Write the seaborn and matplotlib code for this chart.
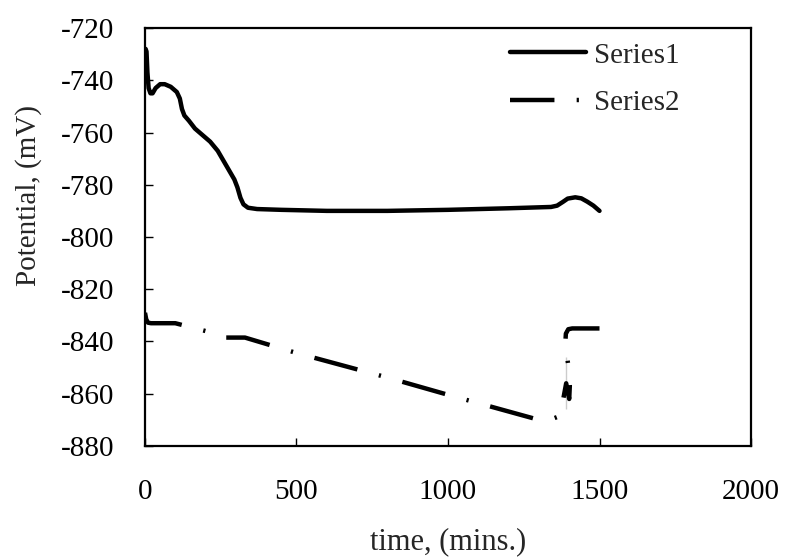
import pandas as pd
import numpy as np
import matplotlib.pyplot as plt
import seaborn as sns

# Series1: time (mins) and potential (mV)
s1_time = [0, 2, 5, 8, 12, 18, 25, 35, 50, 65, 85, 105, 115, 122, 130, 145, 165, 190, 215,
           240, 260, 280, 295, 305, 315, 325, 340, 370, 450, 600, 800, 1000, 1200, 1340,
           1360, 1380, 1395, 1420, 1440, 1460, 1480, 1500]
s1_pot = [-740, -728, -729, -737, -743, -745, -745, -743, -741.5, -741.5, -742.5, -744.5,
          -747, -751, -753.5, -755.5, -758.5, -761, -763.5, -767, -771, -775, -778, -781,
          -785, -787.5, -788.8, -789.3, -789.6, -790, -790, -789.6, -789, -788.5, -788,
          -786.5, -785.3, -784.8, -785.2, -786.5, -788, -790]

# Series2
s2_time = [0, 4, 10, 20, 100, 200, 250, 300, 330, 500, 800, 1000, 1300, 1340, 1370, 1390,
           1400, 1402, 1398, 1390, 1387, 1389, 1397, 1410, 1500]
s2_pot = [-829, -831.5, -832.8, -833, -833, -836, -838.5, -838.5, -838.5, -844.4, -853.8,
          -860.4, -870, -869.8, -868.5, -866, -862, -857, -850, -846, -841, -837, -835.3,
          -835, -835]

df1 = pd.DataFrame({'time': s1_time, 'pot': s1_pot})
df2 = pd.DataFrame({'time': s2_time, 'pot': s2_pot})

sns.set_theme(style='white')
plt.rcParams['font.family'] = ['Liberation Serif', 'DejaVu Serif']
plt.rcParams['axes.unicode_minus'] = False

fig = plt.figure(figsize=(7.85, 5.57), dpi=100)
ax = fig.add_axes([0.1847, 0.1993, 0.772, 0.7504])

sns.lineplot(x='time', y='pot', data=df1, sort=False, color='black', linewidth=3.2,
             label='Series1', ax=ax)
sns.lineplot(x='time', y='pot', data=df2, sort=False, color='black', linewidth=3.2,
             label='Series2', ax=ax)
ax.lines[1].set_dashes([10, 5, 0.5, 5])

ax.set_xlim(0, 2000)
ax.set_ylim(-880, -720)
ax.set_xticks(np.arange(0, 2001, 500))
ax.set_yticks(np.arange(-880, -719, 20))
ax.tick_params(direction='in', length=6, width=1, colors='black', labelsize=21, pad=22,
               top=False, right=False, bottom=True, left=True)
ax.tick_params(axis='x', pad=24)
for sp in ax.spines.values():
    sp.set_color('black')
    sp.set_linewidth(1.6)

ax.set_xlabel('time, (mins.)', fontsize=22)
ax.set_ylabel('Potential, (mV)', fontsize=21)
ax.xaxis.set_label_coords(0.5, -0.195)
ax.yaxis.set_label_coords(-0.17, 0.6)

leg = ax.legend(loc='upper left', frameon=False, fontsize=21, handlelength=2.6,
                labelspacing=0.72, handletextpad=0.25, borderpad=0, borderaxespad=0,
                bbox_to_anchor=(0.603, 0.966))

fig.savefig('out.png', dpi=100)
